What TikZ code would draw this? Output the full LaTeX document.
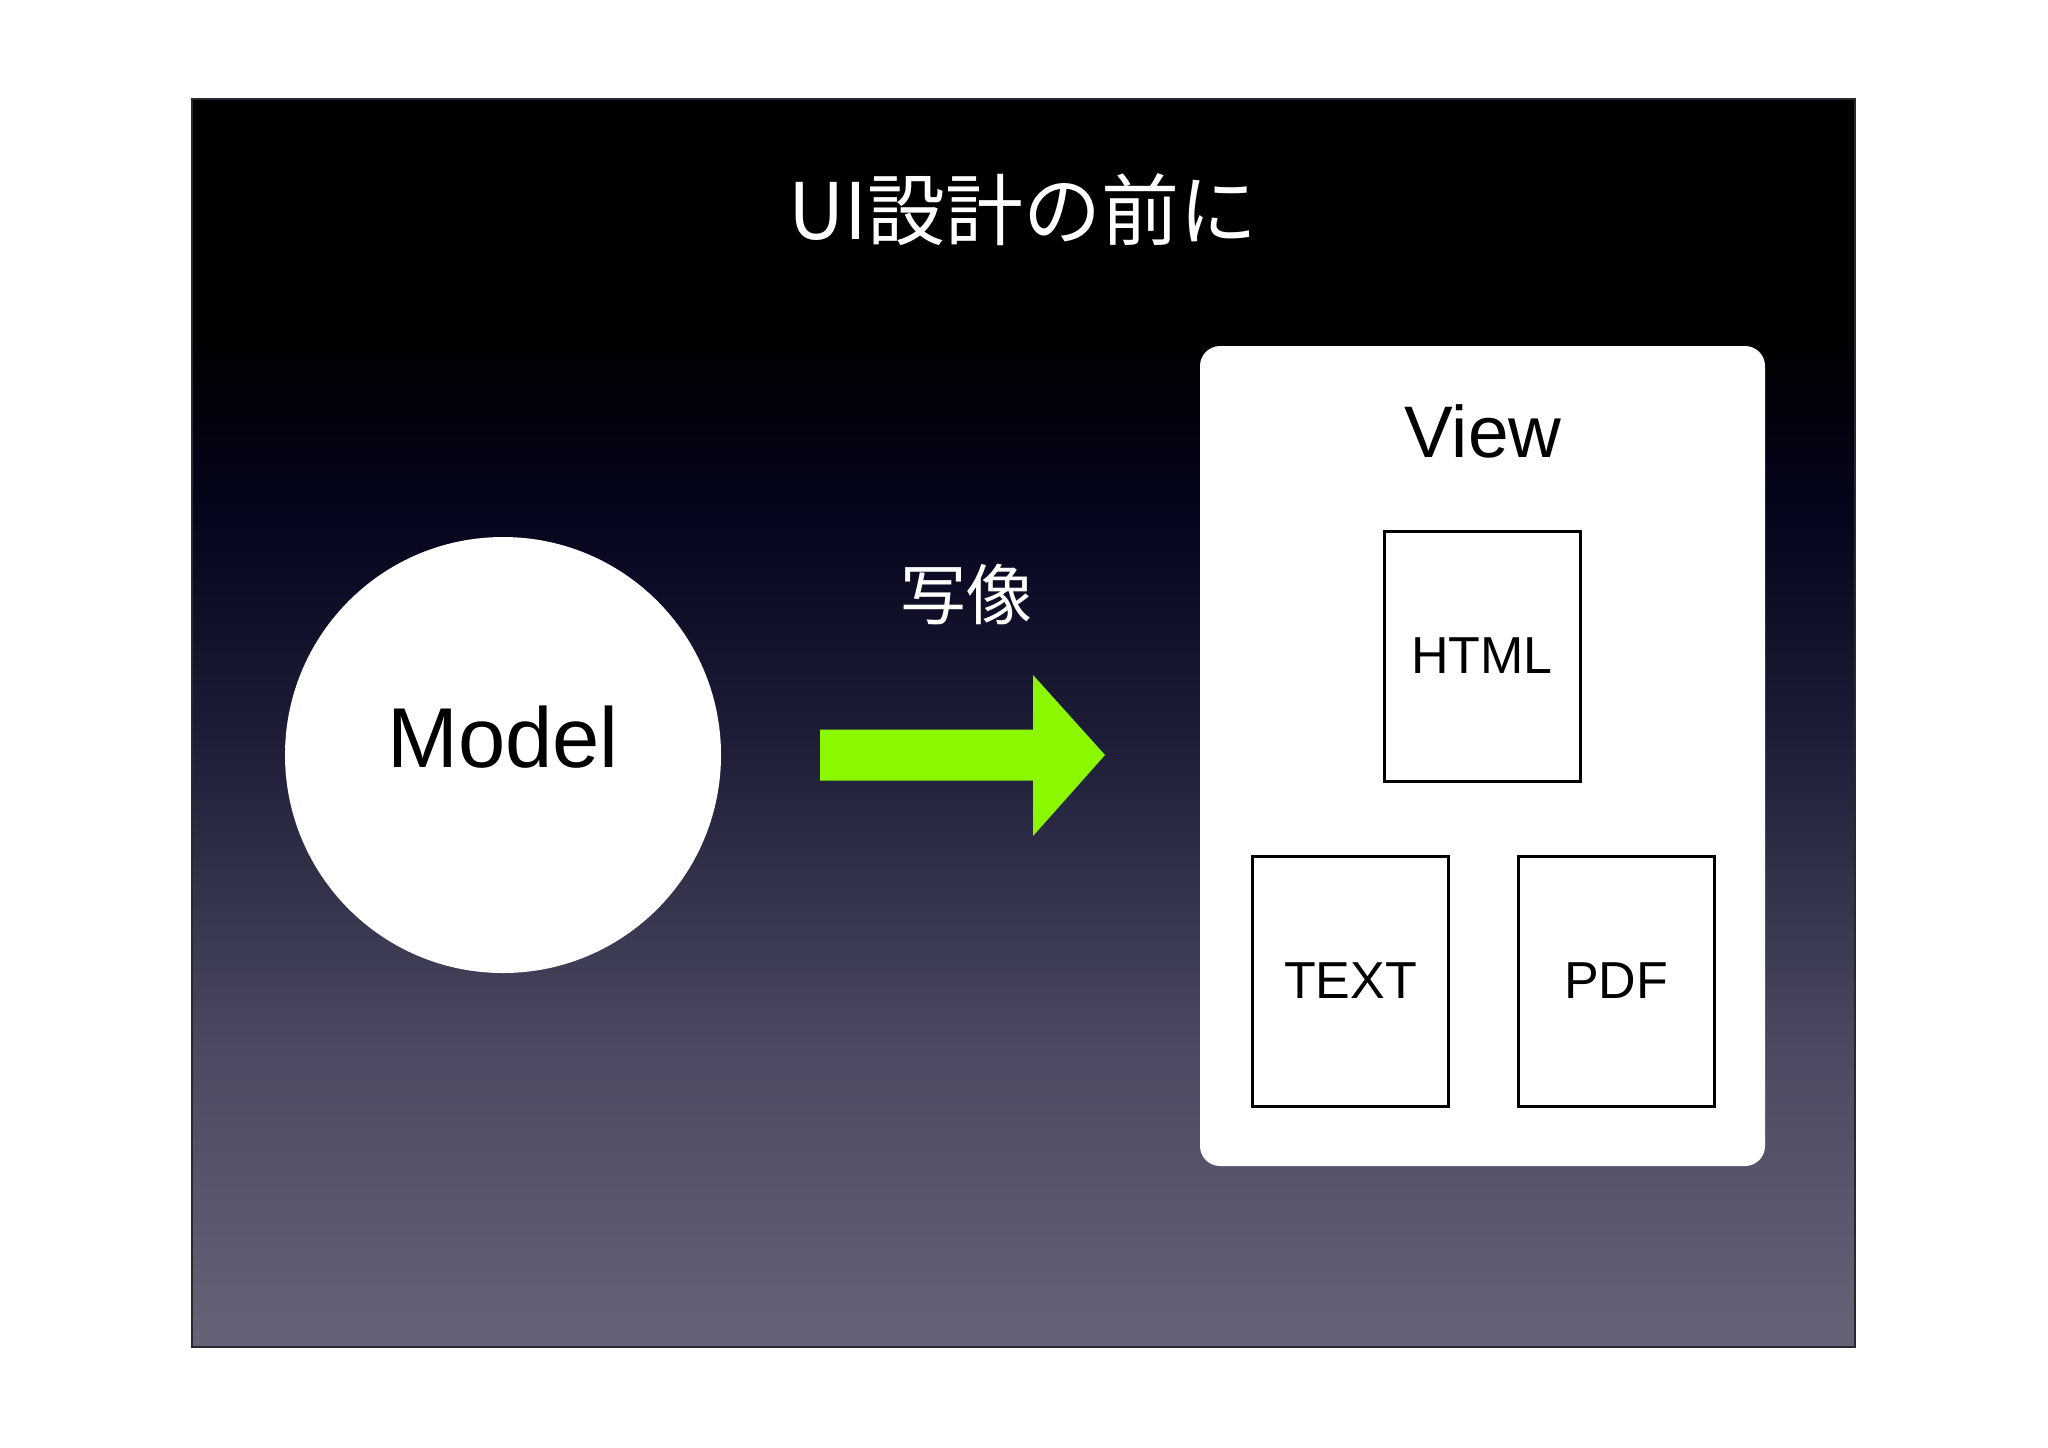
\documentclass[tikz,border=0pt]{standalone}
\usepackage{fontspec}
\usetikzlibrary{calc}
\setmainfont{Liberation Sans}
\newfontfamily\cjk{Noto Sans CJK JP}
\definecolor{arrowgreen}{RGB}{140,248,0}
\definecolor{bgA}{RGB}{0,0,0}
\definecolor{bgB}{RGB}{5,5,30}
\definecolor{bgC}{RGB}{32,32,58}
\definecolor{bgD}{RGB}{75,74,98}
\definecolor{bgE}{RGB}{100,99,120}
\definecolor{frame}{RGB}{40,40,48}
\tikzset{
  doc/.style={draw=black, line width=1.5pt, fill=white, minimum width=98pt, minimum height=125pt, inner sep=0pt, font=\fontsize{26pt}{30pt}\selectfont},
  slidetext/.style={text=white, inner sep=0pt},
}
\begin{document}
\begin{tikzpicture}[x=0.5pt, y=-0.5pt]
\useasboundingbox (0,0) rectangle (2048,1447);
\fill[white] (0,0) rectangle (2048,1447);
% background gradient
\fill[bgA] (192,99) rectangle (1855,332);
\shade[top color=bgA, bottom color=bgB] (192,330) rectangle (1855,522);
\shade[top color=bgB, bottom color=bgC] (192,520) rectangle (1855,762);
\shade[top color=bgC, bottom color=bgD] (192,760) rectangle (1855,1052);
\shade[top color=bgD, bottom color=bgE] (192,1050) rectangle (1855,1347);
\draw[frame, line width=1pt] (192,99) rectangle (1855,1347);
% title
\node[slidetext, font=\cjk\fontsize{39pt}{46pt}\selectfont] (title) at (1023,210) {UI設計の前に};
% model
\node[circle, fill=white, minimum size=218pt, inner sep=0pt] (model) at (503,755) {};
\node[anchor=base, inner sep=0pt, font=\fontsize{42.5pt}{50pt}\selectfont] (modeltext) at (503,767) {Model};
% mapping arrow
\node[slidetext, font=\cjk\fontsize{33pt}{40pt}\selectfont] (mapping) at (966,595) {写像};
\coordinate (arrowtail) at (820,755);
\coordinate (arrowtip) at (1105,755);
\fill[arrowgreen] ($(arrowtail)+(0,-25.5)$) -- (1033,729.5) -- (1033,675) -- (arrowtip) -- (1033,836) -- (1033,780.5) -- ($(arrowtail)+(0,25.5)$) -- cycle;
% view
\node[fill=white, rounded corners=10pt, minimum width=282.5pt, minimum height=410pt, inner sep=0pt] (view) at (1482.5,756) {};
\node[anchor=base, inner sep=0pt, font=\fontsize{36.5pt}{44pt}\selectfont] (viewtext) at (1483,457) {View};
\node[doc] (html) at (1482,656) {HTML};
\node[doc] (text) at (1350.5,981) {TEXT};
\node[doc] (pdf) at (1616,981) {PDF};
\end{tikzpicture}
\end{document}
